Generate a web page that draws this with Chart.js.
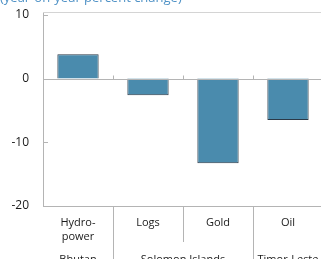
<!DOCTYPE html>
<html>
<head>
<meta charset="utf-8">
<script src="https://cdn.jsdelivr.net/npm/chart.js@4.4.1/dist/chart.umd.min.js"></script>
<style>
    html, body { margin: 0; padding: 0; background: #fff; overflow: hidden; }
    #wrap { width: 324px; height: 259px; }
</style>
</head>
<body>
<div id="wrap"><canvas id="chart" width="324" height="259"></canvas></div>
<script>
// Dữ liệu
const categories = ['Hydro-power', 'Logs', 'Gold', 'Oil'];
const categoryLines = [['Hydro-', 'power'], ['Logs'], ['Gold'], ['Oil']];
const groups = [
    { label: 'Bhutan', from: 0, to: 0 },
    { label: 'Solomon Islands', from: 1, to: 2 },
    { label: 'Timor-Leste', from: 3, to: 3 }
];
const values = [3.8, -2.6, -13.3, -6.5];
const yTicks = [10, 0, -10, -20];
const titleText = '(year-on-year percent change)';

const FONT = '"Open Sans", "DejaVu Sans", sans-serif';
const AXIS = '#b4b4b4';

// Vẽ trục, vạch chia và nhãn dưới trục
const decorPlugin = {
    id: 'decor',
    afterDatasetsDraw(chart) {
        const { ctx, chartArea: a, scales: { x, y } } = chart;
        const half = (x.getPixelForValue(1) - x.getPixelForValue(0)) / 2;
        const y0 = Math.round(y.getPixelForValue(0)) + 0.5;

        ctx.save();
        ctx.lineWidth = 1;

        // khung trên
        ctx.strokeStyle = '#d4d4d4';
        ctx.beginPath();
        ctx.moveTo(a.left, Math.round(a.top) + 0.5);
        ctx.lineTo(a.right, Math.round(a.top) + 0.5);
        ctx.stroke();

        ctx.strokeStyle = AXIS;
        // đường 0
        ctx.beginPath();
        ctx.moveTo(a.left, y0);
        ctx.lineTo(a.right, y0);
        ctx.stroke();

        // trục dưới
        const yb = Math.round(a.bottom) + 0.5;
        ctx.beginPath();
        ctx.moveTo(a.left, yb);
        ctx.lineTo(a.right, yb);
        ctx.stroke();

        // vạch chia trục y (hướng vào trong)
        yTicks.forEach(function (v) {
            const py = Math.round(y.getPixelForValue(v)) + 0.5;
            ctx.beginPath();
            ctx.moveTo(a.left, py);
            ctx.lineTo(a.left + 5, py);
            ctx.stroke();
        });

        // vạch chia giữa các nhóm trên đường 0 và đường phân cách dưới trục
        for (let i = 1; i < categories.length; i++) {
            const px = Math.round(x.getPixelForValue(i) - half) + 0.5;
            ctx.beginPath();
            ctx.moveTo(px, y0);
            ctx.lineTo(px, y0 - 4);
            ctx.stroke();

            const isGroupEdge = groups.some(function (g) { return g.from === i; });
            ctx.beginPath();
            ctx.moveTo(px, yb);
            ctx.lineTo(px, isGroupEdge ? chart.height : 242);
            ctx.stroke();
        }

        // nhãn danh mục
        ctx.fillStyle = '#1a1a1a';
        ctx.font = '11px ' + FONT;
        ctx.textAlign = 'center';
        ctx.textBaseline = 'alphabetic';
        categoryLines.forEach(function (lines, i) {
            const cx = x.getPixelForValue(i);
            lines.forEach(function (t, j) {
                ctx.fillText(t, cx, 226 + j * 14);
            });
        });

        // nhãn nhóm
        groups.forEach(function (g) {
            const cx = (x.getPixelForValue(g.from) + x.getPixelForValue(g.to)) / 2;
            ctx.fillText(g.label, cx, 263);
        });

        // tiêu đề (bị cắt ở trên)
        ctx.fillStyle = '#4f92c6';
        ctx.font = '13px ' + FONT;
        ctx.textAlign = 'left';
        ctx.fillText(titleText, 0, 2);

        ctx.restore();
    }
};

const ctx1 = document.getElementById('chart').getContext('2d');
new Chart(ctx1, {
    type: 'bar',
    data: {
        labels: categories,
        datasets: [{
            data: values,
            backgroundColor: '#4a8bad',
            borderColor: '#2b3947',
            borderWidth: 1,
            categoryPercentage: 1,
            barPercentage: 0.59
        }]
    },
    options: {
        responsive: false,
        animation: false,
        layout: { padding: { left: 0, right: 1, top: 12, bottom: 53 } },
        plugins: {
            legend: { display: false },
            tooltip: { enabled: false }
        },
        scales: {
            x: { display: false },
            y: {
                min: -20,
                max: 10.45,
                afterBuildTicks: function (scale) {
                    scale.ticks = yTicks.map(function (v) { return { value: v }; });
                },
                afterFit: function (scale) {
                    scale.width = 43;
                    scale.paddingTop = 0;
                    scale.paddingBottom = 0;
                },
                grid: { display: false, drawTicks: false },
                border: { display: true, color: AXIS },
                ticks: {
                    padding: 14,
                    color: '#1a1a1a',
                    font: { family: FONT, size: 12 }
                }
            }
        }
    },
    plugins: [decorPlugin]
});
</script>
</body>
</html>
